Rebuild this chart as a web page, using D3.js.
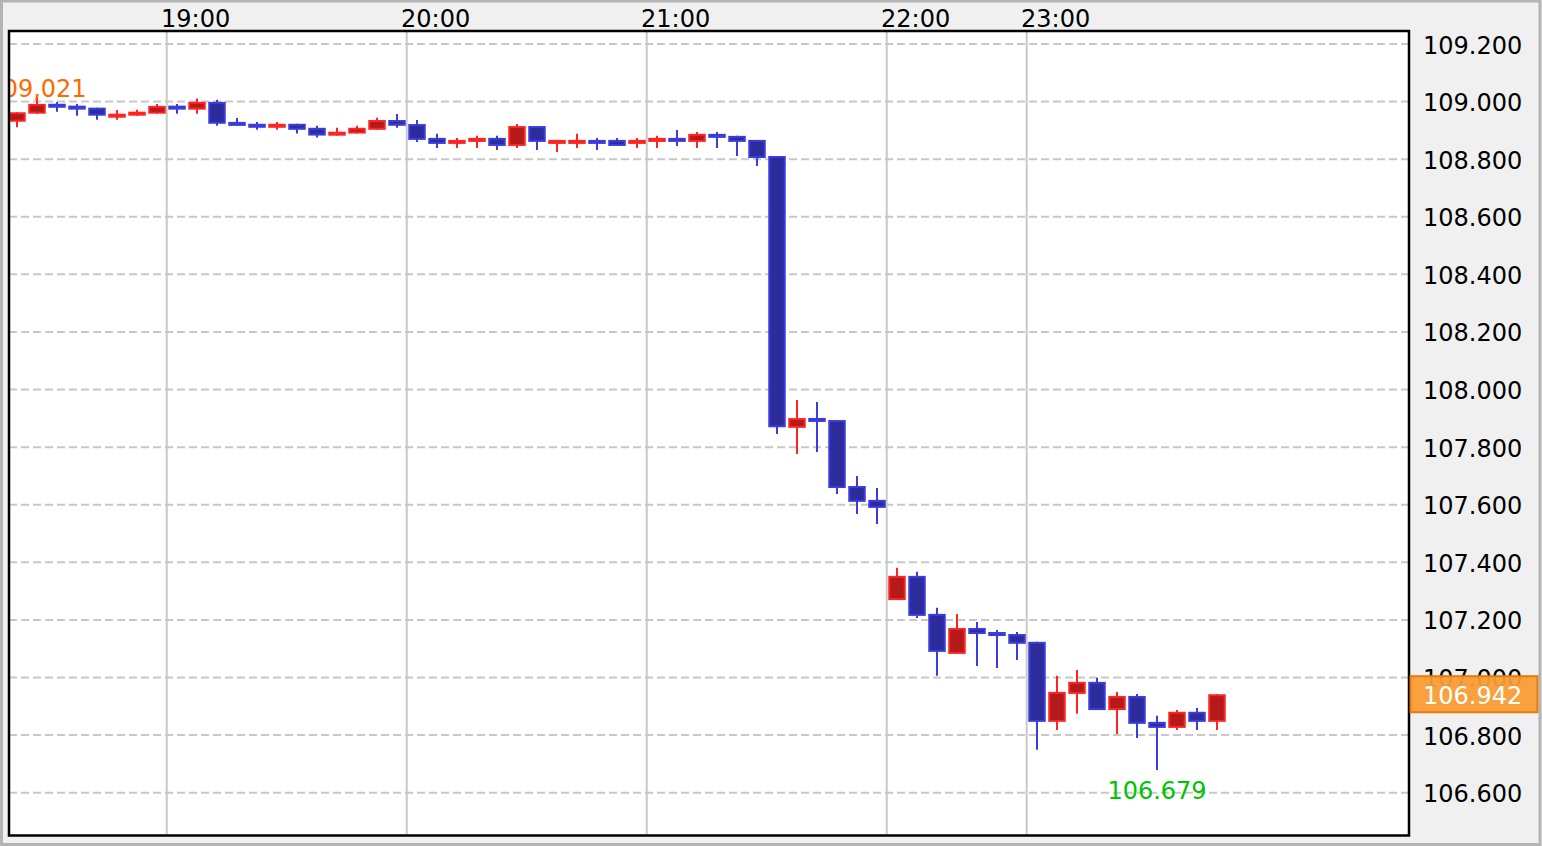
<!DOCTYPE html>
<html>
<head>
<meta charset="utf-8">
<script src="https://cdn.jsdelivr.net/npm/d3@7"></script>
<style>
  html, body { margin: 0; padding: 0; background: #f0f0f0; }
  svg { display: block; }
  text { font-family: "DejaVu Sans", Verdana, sans-serif; }
</style>
</head>
<body>
<svg id="chart" width="1542" height="846"></svg>
<script>
// ---- data (5-minute candles) ----
const times = [
  "18:20","18:25","18:30","18:35","18:40","18:45","18:50","18:55",
  "19:00","19:05","19:10","19:15","19:20","19:25","19:30","19:35","19:40","19:45","19:50","19:55",
  "20:00","20:05","20:10","20:15","20:20","20:25","20:30","20:35","20:40","20:45","20:50","20:55",
  "21:00","21:05","21:10","21:15","21:20","21:25","21:30","21:35","21:40","21:45","21:50","21:55",
  "22:00","22:05","22:10","22:15","22:20","22:25","22:30",
  "23:00","23:05","23:10","23:15","23:20","23:25","23:30","23:35","23:40","23:45"
];
const open  = [108.930,108.958,108.992,108.986,108.979,108.944,108.951,108.958,
  108.986,108.972,108.999,108.929,108.923,108.909,108.923,108.909,108.882,108.889,108.902,108.936,
  108.922,108.874,108.853,108.860,108.874,108.846,108.915,108.853,108.853,108.867,108.867,108.853,
  108.860,108.874,108.860,108.888,108.881,108.867,108.811,107.867,107.901,107.894,107.665,107.617,
  107.269,107.353,107.221,107.082,107.172,107.158,107.151,
  107.124,106.846,106.943,106.985,106.887,106.936,106.846,106.825,106.881,106.846];
const high  = [108.963,109.021,108.999,108.992,108.979,108.971,108.972,108.992,
  108.992,109.011,109.006,108.943,108.929,108.929,108.923,108.916,108.909,108.916,108.944,108.957,
  108.936,108.888,108.874,108.881,108.881,108.922,108.915,108.867,108.888,108.874,108.874,108.874,
  108.881,108.901,108.894,108.894,108.881,108.867,108.811,107.964,107.957,107.894,107.700,107.658,
  107.381,107.367,107.242,107.221,107.193,107.165,107.158,
  107.124,107.006,107.026,106.999,106.950,106.943,106.867,106.887,106.894,106.943];
const low   = [108.911,108.958,108.965,108.951,108.937,108.937,108.951,108.958,
  108.958,108.958,108.916,108.916,108.902,108.902,108.889,108.875,108.882,108.889,108.902,108.909,
  108.860,108.839,108.839,108.839,108.832,108.839,108.832,108.825,108.839,108.832,108.846,108.839,
  108.839,108.846,108.839,108.839,108.811,108.776,107.846,107.776,107.783,107.637,107.568,107.533,
  107.269,107.207,107.006,107.082,107.040,107.033,107.061,
  106.749,106.818,106.874,106.887,106.804,106.790,106.679,106.818,106.818,106.818];
const close = [108.963,108.992,108.979,108.972,108.951,108.958,108.965,108.985,
  108.972,108.999,108.923,108.916,108.909,108.923,108.902,108.882,108.895,108.909,108.936,108.916,
  108.867,108.853,108.867,108.874,108.846,108.915,108.860,108.867,108.867,108.853,108.846,108.867,
  108.874,108.860,108.888,108.874,108.860,108.804,107.869,107.901,107.888,107.658,107.610,107.589,
  107.353,107.214,107.089,107.172,107.151,107.144,107.117,
  106.846,106.950,106.985,106.887,106.936,106.839,106.825,106.881,106.846,106.942];

const timeTicks = ["19:00","20:00","21:00","22:00","23:00"];
const priceTicks = [106.6,106.8,107.0,107.2,107.4,107.6,107.8,108.0,108.2,108.4,108.6,108.8,109.0,109.2];
const lastPrice = 106.942;
const highLabel = "109,021";
const lowLabel = "106.679";

// ---- layout ----
const W = 1542, H = 846;
const plot = {x: 9, y: 31, w: 1400, h: 804.5};
const svg = d3.select("#chart");

const x = d3.scaleBand().domain(times).range([7, 7 + 20 * times.length]).padding(0);
const y = d3.scaleLinear().domain([106.6, 109.2]).range([792.7, 44]);

const candles = times.map((t, i) => ({t, o: open[i], h: high[i], l: low[i], c: close[i]}));

// outer frame
svg.append("rect").attr("x", 1.5).attr("y", 1).attr("width", W - 3.5).attr("height", H - 2.5)
  .attr("fill", "#f0f0f0").attr("stroke", "#b4b4b4").attr("stroke-width", 3);

// plot background
svg.append("rect").attr("x", plot.x).attr("y", plot.y).attr("width", plot.w).attr("height", plot.h)
  .attr("fill", "#ffffff");

svg.append("clipPath").attr("id", "clip").append("rect")
  .attr("x", plot.x + 1).attr("y", plot.y + 1).attr("width", plot.w - 2).attr("height", plot.h - 2);

const g = svg.append("g").attr("clip-path", "url(#clip)");

// horizontal dashed grid
g.selectAll("line.hgrid").data(priceTicks).join("line").attr("class", "hgrid")
  .attr("x1", plot.x).attr("x2", plot.x + plot.w)
  .attr("y1", d => y(d)).attr("y2", d => y(d))
  .attr("stroke", "#c8c8c8").attr("stroke-width", 2).attr("stroke-dasharray", "8,4");

// vertical time grid
g.selectAll("line.vgrid").data(timeTicks).join("line").attr("class", "vgrid")
  .attr("x1", d => x(d) - 0.3).attr("x2", d => x(d) - 0.3)
  .attr("y1", plot.y).attr("y2", plot.y + plot.h)
  .attr("stroke", "#c8c8c8").attr("stroke-width", 2);

const col = d => d.c >= d.o
  ? {stroke: "#ff2424", fill: "#b41a1a"}
  : {stroke: "#3c3cdc", fill: "#2c2c9c"};
const cx = d => x(d.t) + x.bandwidth() / 2;

// wicks
g.selectAll("line.wick").data(candles).join("line").attr("class", "wick")
  .attr("x1", cx).attr("x2", cx)
  .attr("y1", d => y(d.h)).attr("y2", d => y(d.l))
  .attr("stroke", d => col(d).stroke).attr("stroke-width", 2);

// bodies
g.selectAll("rect.body").data(candles).join("rect").attr("class", "body")
  .each(function(d) {
    let top = y(Math.max(d.o, d.c)), bot = y(Math.min(d.o, d.c));
    if (bot - top < 4) { const m = (top + bot) / 2; top = m - 2; bot = m + 2; }
    d3.select(this)
      .attr("x", cx(d) - 7.75).attr("width", 15.5)
      .attr("y", top + 1).attr("height", Math.max(bot - top - 2, 2))
      .attr("fill", col(d).fill).attr("stroke", col(d).stroke).attr("stroke-width", 2);
  });

// high / low labels
const hiIdx = d3.maxIndex(candles, d => d.h);
const loIdx = d3.minIndex(candles, d => d.l);
g.append("text").attr("x", cx(candles[hiIdx])).attr("y", y(candles[hiIdx].h) + 1.5)
  .attr("text-anchor", "middle").attr("font-size", 24)
  .attr("fill", "#ff6a00").text(highLabel);
g.append("text").attr("x", cx(candles[loIdx])).attr("y", y(candles[loIdx].l) + 29)
  .attr("text-anchor", "middle").attr("font-size", 24)
  .attr("fill", "#00c400").text(lowLabel);

// plot border
svg.append("rect").attr("x", plot.x).attr("y", plot.y).attr("width", plot.w).attr("height", plot.h)
  .attr("fill", "none").attr("stroke", "#000").attr("stroke-width", 2.5);

// time labels
svg.selectAll("text.tlab").data(timeTicks).join("text").attr("class", "tlab")
  .attr("x", d => x(d) - 6).attr("y", 27)
  .attr("font-size", 24).attr("fill", "#000").text(d => d);

// price labels
svg.selectAll("text.plab").data(priceTicks).join("text").attr("class", "plab")
  .attr("x", 1423).attr("y", d => y(d) + 9.5)
  .attr("font-size", 24).attr("fill", "#000").text(d => d.toFixed(3));

// last price tag
const ly = y(lastPrice);
svg.append("rect").attr("x", 1410.5).attr("y", ly - 18).attr("width", 127).attr("height", 36)
  .attr("fill", "#f89c34").attr("fill-opacity", 0.95).attr("stroke", "#e87a0a").attr("stroke-width", 2);
svg.append("text").attr("x", 1423).attr("y", ly + 9.5)
  .attr("font-size", 24).attr("fill", "#ffffff").text(lastPrice.toFixed(3));
</script>
</body>
</html>
